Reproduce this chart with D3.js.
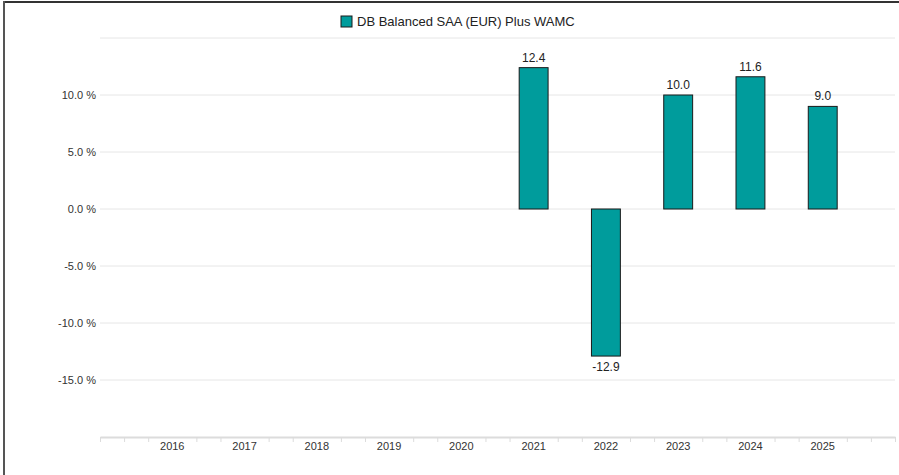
<!DOCTYPE html>
<html>
<head>
<meta charset="utf-8">
<script src="https://cdn.jsdelivr.net/npm/d3@7"></script>
<style>
  body { margin: 0; background: #fff; }
  svg { display: block; font-family: "Liberation Sans", Arial, sans-serif; }
</style>
</head>
<body>
<div id="chart"></div>
<script>
// data
var years = ["2016", "2017", "2018", "2019", "2020", "2021", "2022", "2023", "2024", "2025"];
var values = [null, null, null, null, null, 12.4, -12.9, 10.0, 11.6, 9.0];
var seriesName = "DB Balanced SAA (EUR) Plus WAMC";
var yTicks = [-15, -10, -5, 0, 5, 10];
var gridTicks = [-15, -10, -5, 0, 5, 10, 15];

var w = 899, h = 475;
var plotLeft = 100, plotRight = 895, plotTop = 38, plotBottom = 437;
var barColor = "#009c9c";

// plain hyphen for negatives, like the original
var fmt = d3.formatLocale({ decimal: ".", thousands: ",", grouping: [3], currency: ["", ""], minus: "-" })
  .format(".1f");

var svg = d3.select("#chart").append("svg")
  .attr("width", w)
  .attr("height", h);

// frame (only top and left edges show in the picture)
svg.append("line").attr("x1", 4).attr("x2", w).attr("y1", 2).attr("y2", 2)
  .attr("stroke", "#333").attr("stroke-width", 2);
svg.append("line").attr("x1", 4).attr("x2", 4).attr("y1", 1).attr("y2", h)
  .attr("stroke", "#555").attr("stroke-width", 2);

// scales: one slot per year, with an empty slot on each side
var x = d3.scaleLinear().domain([0, years.length + 1]).range([plotLeft, plotRight]);
var y = d3.scaleLinear().domain([-20, 15]).range([plotBottom, plotTop]);

// grid lines
svg.selectAll("line.grid")
  .data(gridTicks)
  .enter()
  .append("line")
  .attr("class", "grid")
  .attr("x1", plotLeft)
  .attr("x2", plotRight)
  .attr("y1", function(d) { return y(d); })
  .attr("y2", function(d) { return y(d); })
  .attr("stroke", "#e6e6e6")
  .attr("stroke-width", 1);

// y labels
var yAxis = d3.axisLeft(y)
  .tickValues(yTicks)
  .tickSize(0)
  .tickPadding(4)
  .tickFormat(function(d) { return fmt(d) + " %"; });
var gy = svg.append("g").attr("transform", "translate(" + plotLeft + ",0)").call(yAxis);
gy.select(".domain").remove();
gy.selectAll("text").attr("font-size", "11px").attr("fill", "#333")
  .attr("font-family", "Liberation Sans, Arial, sans-serif");

// x axis: minor ticks every third of a slot, labels at slot centres
var nThirds = (years.length + 1) * 3;
var tickVals = d3.range(0, nThirds + 1)
  .filter(function(k) { return !(k % 3 === 0 && k > 0 && k < nThirds); })
  .map(function(k) { return k / 3; });
var xAxis = d3.axisBottom(x)
  .tickValues(tickVals)
  .tickSize(5)
  .tickSizeOuter(0)
  .tickFormat("");
var gx = svg.append("g").attr("transform", "translate(0," + plotBottom + ")").call(xAxis);
gx.select(".domain").attr("stroke", "#dcdcdc").attr("stroke-width", 2);
gx.selectAll(".tick line").attr("stroke", "#dcdcdc");

svg.selectAll("text.year")
  .data(years)
  .enter()
  .append("text")
  .attr("class", "year")
  .attr("x", function(d, i) { return x(i + 1); })
  .attr("y", plotBottom + 13)
  .attr("text-anchor", "middle")
  .attr("font-size", "11px")
  .attr("fill", "#333")
  .text(function(d) { return d; });

// bars
var slot = x(1) - x(0);
var bw = slot * 0.4;
var bars = years.map(function(d, i) { return { year: d, i: i, v: values[i] }; })
  .filter(function(d) { return d.v !== null; });

svg.selectAll("rect.bar")
  .data(bars)
  .enter()
  .append("rect")
  .attr("class", "bar")
  .attr("x", function(d) { return x(d.i + 1) - bw / 2; })
  .attr("y", function(d) { return y(Math.max(0, d.v)); })
  .attr("width", bw)
  .attr("height", function(d) { return Math.abs(y(d.v) - y(0)); })
  .attr("fill", barColor)
  .attr("stroke", "#1a1a1a")
  .attr("stroke-width", 1);

svg.selectAll("text.val")
  .data(bars)
  .enter()
  .append("text")
  .attr("class", "val")
  .attr("x", function(d) { return x(d.i + 1); })
  .attr("y", function(d) { return d.v >= 0 ? y(d.v) - 6 : y(d.v) + 15; })
  .attr("text-anchor", "middle")
  .attr("font-size", "12px")
  .attr("fill", "#222")
  .text(function(d) { return fmt(d.v); });

// legend
var lg = svg.append("g").attr("transform", "translate(341,16)");
lg.append("rect").attr("width", 11).attr("height", 11)
  .attr("fill", barColor).attr("stroke", "#1a1a1a").attr("stroke-width", 1);
lg.append("text").attr("x", 16).attr("y", 10)
  .attr("font-size", "13px").attr("fill", "#222")
  .text(seriesName);
</script>
</body>
</html>
